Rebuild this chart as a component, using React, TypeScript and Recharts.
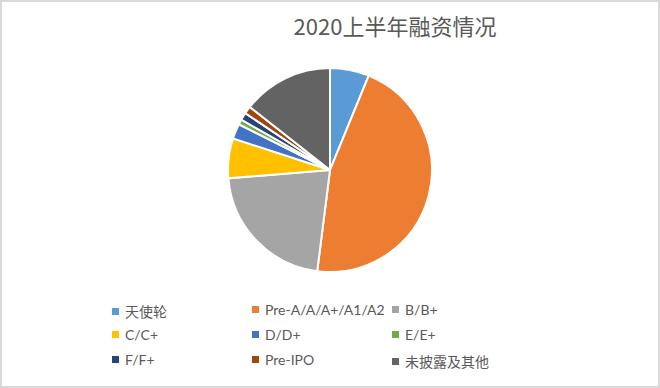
import { Cell, Legend, Pie, PieChart } from "recharts";

const categories = [
  "天使轮",
  "Pre-A/A/A+/A1/A2",
  "B/B+",
  "C/C+",
  "D/D+",
  "E/E+",
  "F/F+",
  "Pre-IPO",
  "未披露及其他",
];
const values = [62, 458, 217, 63, 24, 8, 12, 12, 144];
const COLORS = [
  "#5B9BD5",
  "#ED7D31",
  "#A5A5A5",
  "#FFC000",
  "#4472C4",
  "#70AD47",
  "#264478",
  "#9E480E",
  "#636363",
];

const data = categories.map((name, i) => ({ name, value: values[i] }));

const colLeft = [112, 252, 392];

const renderLegend = () => (
  <div style={{ position: "relative", width: 560, height: 80 }}>
    {data.map((d, i) => (
      <div
        key={d.name}
        style={{
          position: "absolute",
          left: colLeft[i % 3] - 100,
          top: Math.floor(i / 3) * 25,
          display: "flex",
          alignItems: "center",
          fontFamily: "Lato, 'Noto Sans CJK SC', sans-serif",
          fontSize: 14,
          color: "#595959",
          whiteSpace: "nowrap",
        }}
      >
        <span
          style={{
            display: "inline-block",
            width: 7,
            height: 7,
            background: COLORS[i],
            marginRight: 6,
          }}
        />
        {d.name}
      </div>
    ))}
  </div>
);

const App = () => {
  return (
    <div
      style={{
        position: "absolute",
        left: 0,
        top: 0,
        width: 660,
        height: 388,
        boxSizing: "border-box",
        border: "2px solid #d9d9d9",
        background: "#fff",
      }}
    >
      <div
        style={{
          position: "absolute",
          left: 0,
          width: 786,
          top: 7,
          textAlign: "center",
          fontFamily: "'Noto Sans CJK SC', sans-serif",
          fontSize: 22,
          color: "#595959",
        }}
      >
        2020上半年融资情况
      </div>
      <div style={{ position: "absolute", left: -2, top: -2 }}>
        <PieChart
          width={660}
          height={388}
          margin={{ top: 0, right: 0, bottom: 0, left: 0 }}
        >
          <Pie
            data={data}
            dataKey="value"
            nameKey="name"
            cx={330}
            cy={170}
            outerRadius={102}
            startAngle={90}
            endAngle={-270}
            stroke="#fff"
            strokeWidth={2}
            isAnimationActive={false}
          >
            {data.map((d, i) => (
              <Cell key={d.name} fill={COLORS[i]} />
            ))}
          </Pie>
          <Legend
            content={renderLegend}
            wrapperStyle={{ position: "absolute", left: 100, top: 301, width: 560 }}
          />
        </PieChart>
      </div>
    </div>
  );
};

export default App;
